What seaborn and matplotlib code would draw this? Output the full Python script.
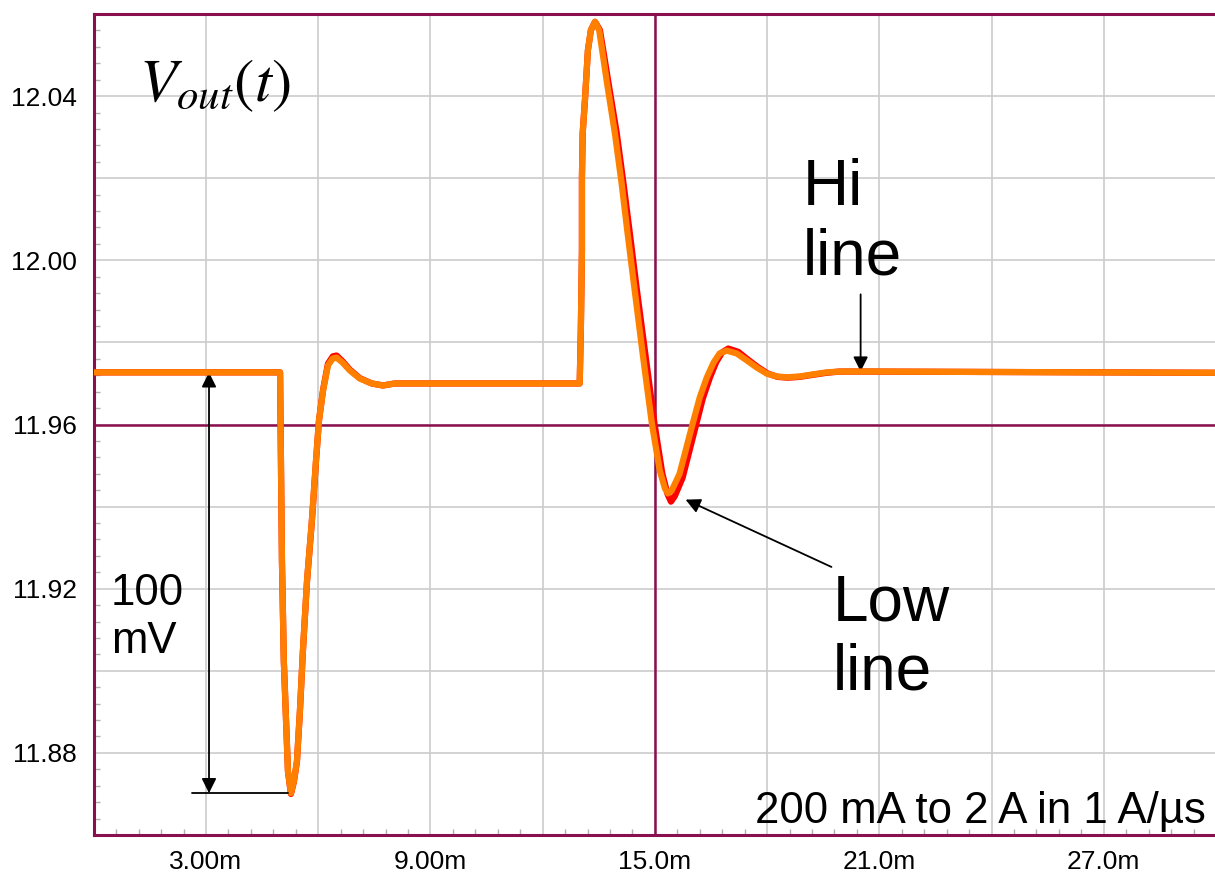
import matplotlib
matplotlib.use('Agg')
import matplotlib.pyplot as plt
from matplotlib.ticker import MultipleLocator
import pandas as pd
import seaborn as sns

# Output voltage, time in ms, voltage in V
# hi line (orange)
t_hi = [0.00, 4.98, 5.00, 5.03, 5.08, 5.14, 5.19, 5.27, 5.35, 5.43, 5.51, 5.59,
        5.70, 5.83, 5.94, 6.02, 6.13, 6.26, 6.39, 6.49, 6.65, 6.84, 7.11, 7.43,
        7.73, 8.05, 12.99, 13.02, 13.05, 13.05, 13.07, 13.13, 13.21, 13.29, 13.40,
        13.51, 13.61, 13.72, 13.93, 14.11, 14.27, 14.46, 14.68, 14.92, 15.13, 15.27,
        15.35, 15.45, 15.66, 16.01, 16.20, 16.39, 16.57, 16.73, 16.92, 17.19, 17.46,
        17.72, 17.99, 18.26, 18.53, 18.87, 19.22, 19.59, 19.94, 20.74, 30.00]
v_hi = [11.9727, 11.9727, 11.9537, 11.9268, 11.9024, 11.8878, 11.8756, 11.8702,
        11.8732, 11.8780, 11.8902, 11.9049, 11.9220, 11.9366, 11.9512, 11.9610,
        11.9683, 11.9744, 11.9761, 11.9763, 11.9751, 11.9732, 11.9712, 11.9700,
        11.9695, 11.9700, 11.9700, 11.9829, 12.0024, 12.0202, 12.0310, 12.0390,
        12.0512, 12.0561, 12.0581, 12.0561, 12.0500, 12.0432, 12.0310, 12.0188,
        12.0066, 11.9927, 11.9768, 11.9602, 11.9488, 11.9444, 11.9432, 11.9439,
        11.9480, 11.9602, 11.9666, 11.9715, 11.9751, 11.9773, 11.9780, 11.9773,
        11.9756, 11.9739, 11.9724, 11.9717, 11.9715, 11.9717, 11.9722, 11.9727,
        11.9729, 11.9729, 11.9726]

# low line (red)
t_lo = [0.00, 4.98, 5.00, 5.03, 5.08, 5.14, 5.19, 5.27, 5.35, 5.43, 5.51, 5.59,
        5.70, 5.83, 5.94, 6.02, 6.13, 6.26, 6.39, 6.49, 6.65, 6.84, 7.11, 7.43,
        7.73, 8.05, 12.99, 13.02, 13.05, 13.05, 13.07, 13.13, 13.21, 13.29, 13.40,
        13.53, 13.64, 13.76, 13.98, 14.16, 14.33, 14.52, 14.75, 14.99, 15.20, 15.34,
        15.43, 15.53, 15.74, 16.09, 16.28, 16.47, 16.64, 16.80, 16.96, 17.23, 17.49,
        17.75, 18.02, 18.28, 18.55, 18.87, 19.22, 19.59, 19.94, 20.74, 30.00]
v_lo = [11.9727, 11.9727, 11.9537, 11.9268, 11.9024, 11.8878, 11.8756, 11.8700,
        11.8730, 11.8778, 11.8900, 11.9047, 11.9218, 11.9364, 11.9510, 11.9610,
        11.9685, 11.9748, 11.9766, 11.9768, 11.9754, 11.9734, 11.9713, 11.9700,
        11.9695, 11.9700, 11.9700, 11.9829, 12.0024, 12.0202, 12.0310, 12.0390,
        12.0512, 12.0561, 12.0581, 12.0561, 12.0500, 12.0432, 12.0310, 12.0188,
        12.0066, 11.9927, 11.9768, 11.9602, 11.9480, 11.9430, 11.9412, 11.9425,
        11.9470, 11.9595, 11.9663, 11.9714, 11.9752, 11.9776, 11.9785, 11.9777,
        11.9758, 11.9740, 11.9724, 11.9716, 11.9714, 11.9716, 11.9721, 11.9726,
        11.9729, 11.9729, 11.9726]

x_ticks = [3, 6, 9, 12, 15, 18, 21, 24, 27]
x_labels = ['3.00m', '', '9.00m', '', '15.0m', '', '21.0m', '', '27.0m']
y_ticks = [11.88, 11.90, 11.92, 11.94, 11.96, 11.98, 12.00, 12.02, 12.04]
y_labels = ['11.88', '', '11.92', '', '11.96', '', '12.00', '', '12.04']

sns.set_style('white')
plt.rcParams['font.family'] = ['Liberation Sans', 'DejaVu Sans']
plt.rcParams['mathtext.fontset'] = 'stix'
plt.rcParams['text.color'] = 'black'

maroon = '#8a0f4e'
fig = plt.figure(figsize=(12.15, 8.74), dpi=100)
ax = fig.add_axes([0.0772, 0.0446, 0.9236, 0.9394])

df_lo = pd.DataFrame({'t': t_lo, 'v': v_lo})
df_hi = pd.DataFrame({'t': t_hi, 'v': v_hi})
sns.lineplot(data=df_lo, x='t', y='v', estimator=None, sort=False,
             color='#ff0000', lw=4.5, ax=ax, zorder=3)
sns.lineplot(data=df_hi, x='t', y='v', estimator=None, sort=False,
             color='#ff8000', lw=4.5, ax=ax, zorder=4)

ax.set_xlim(0, 30)
ax.set_ylim(11.86, 12.06)
ax.set_xticks(x_ticks)
ax.set_xticklabels(x_labels)
ax.set_yticks(y_ticks)
ax.set_yticklabels(y_labels)
ax.xaxis.set_minor_locator(MultipleLocator(0.6))
ax.yaxis.set_minor_locator(MultipleLocator(0.004))
ax.tick_params(which='major', length=0, labelsize=19, colors='black')
ax.tick_params(axis='x', which='major', pad=11)
ax.tick_params(axis='y', which='major', pad=12)
ax.tick_params(which='minor', direction='in', length=4, width=1, color='#b0b0b0')
ax.tick_params(which='minor', left=True, bottom=True)
ax.grid(True, which='major', color='#cccccc', lw=1.2)
ax.set_xlabel('')
ax.set_ylabel('')

for side in ['left', 'top', 'bottom']:
    ax.spines[side].set_color(maroon)
    ax.spines[side].set_linewidth(2.2)
ax.spines['right'].set_visible(False)

# crosshair at 15 ms / 11.96 V
ax.axvline(15, color=maroon, lw=1.8, zorder=2)
ax.axhline(11.96, color=maroon, lw=1.8, zorder=2)

arrow = dict(arrowstyle='-|>', color='black', lw=1.3, mutation_scale=22,
             shrinkA=0, shrinkB=0)

# 100 mV marker
v_flat = v_hi[0]
v_min = min(v_hi)
ax.annotate('', xy=(3.08, v_min), xytext=(3.08, v_flat), arrowprops=dict(
    arrowstyle='<|-|>', color='black', lw=1.3, mutation_scale=22, shrinkA=0, shrinkB=0))
ax.plot([2.62, 5.19], [v_min, v_min], color='black', lw=1.3, zorder=5)
ax.text(0.46, 11.9238, '100\nmV', fontsize=31.5, va='top', ha='left')

# Hi line
ax.annotate('', xy=(20.5, 11.9729), xytext=(20.5, 11.9917), arrowprops=arrow)
ax.text(18.94, 12.0249, 'Hi\nline', fontsize=46, va='top', ha='left')

# Low line
ax.annotate('', xy=(15.82, 11.9417), xytext=(19.72, 11.9253), arrowprops=arrow)
ax.text(19.75, 11.9237, 'Low\nline', fontsize=46, va='top', ha='left')

ax.text(1.22, 12.0495, r'$V_{out}(t)$', fontsize=44, va='top', ha='left')
ax.text(0.991, 0.0146, '200 mA to 2 A in 1 A/µs', fontsize=31.5,
        transform=ax.transAxes, ha='right', va='baseline')

fig.savefig('out.png', dpi=100)
